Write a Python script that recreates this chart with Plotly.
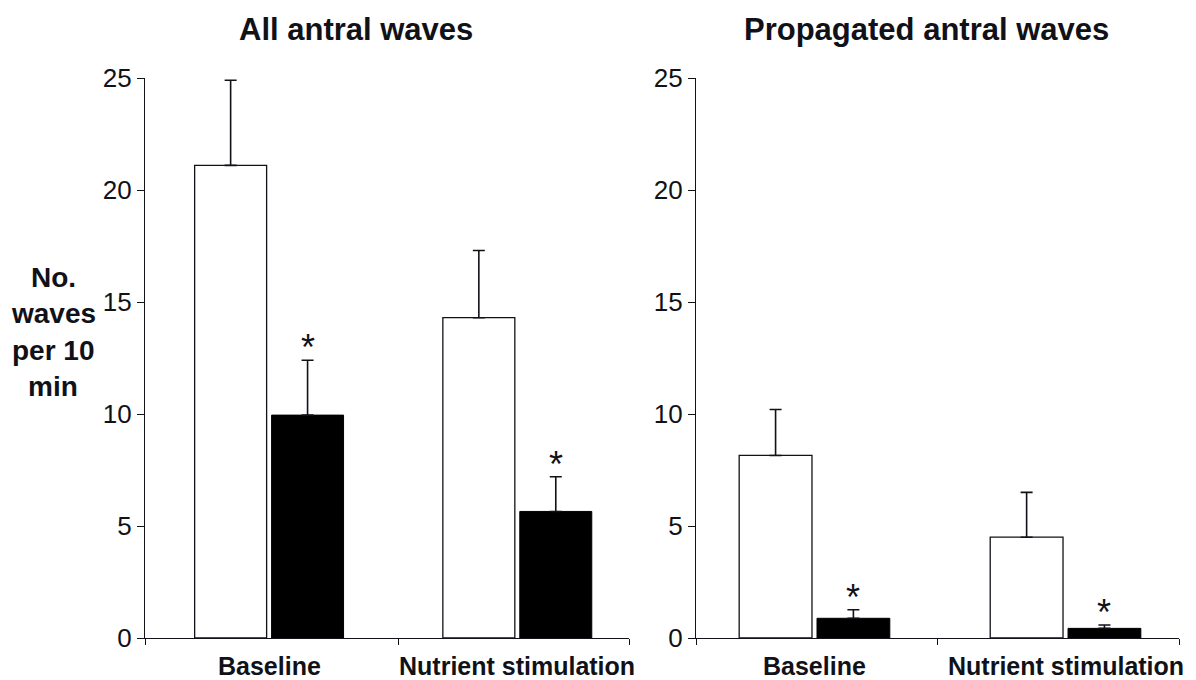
import plotly.graph_objects as go

# ---- data ----
groups = ["Baseline", "Nutrient stimulation"]
panels = ["All antral waves", "Propagated antral waves"]

all_control = [21.1, 14.3]
all_control_err = [3.8, 3.0]
all_treat = [9.95, 5.65]
all_treat_err = [2.45, 1.55]

prop_control = [8.15, 4.5]
prop_control_err = [2.05, 2.0]
prop_treat = [0.88, 0.43]
prop_treat_err = [0.38, 0.15]

y_ticks = [0, 5, 10, 15, 20, 25]
y_label_lines = ["No.", "waves", "per 10", "min"]

# ---- layout helpers ----
OX, OY = 8, 8          # page offset of the figure inside the browser window
W, H = 1196 - OX, 680 - OY
FONT = "Liberation Sans, Arial, sans-serif"
TXT = "#111118"

group_pos = [0.5, 1.5]
off = 0.155
bw = 0.29

def px_x(p):
    return (p - OX) / W

def px_y(p):
    return (H - (p - OY)) / H

fig = go.Figure()

panel_data = [
    (all_control, all_control_err, all_treat, all_treat_err, "x", "y"),
    (prop_control, prop_control_err, prop_treat, prop_treat_err, "x2", "y2"),
]

annotations = []
for ctrl, ctrl_e, trt, trt_e, xa, ya in panel_data:
    xs_c = [g - off for g in group_pos]
    xs_t = [g + off for g in group_pos]
    fig.add_trace(go.Bar(
        x=xs_c, y=ctrl, width=bw, xaxis=xa, yaxis=ya,
        marker=dict(color="white", line=dict(color=TXT, width=1.3)),
        error_y=dict(type="data", symmetric=False, array=ctrl_e,
                     arrayminus=[0] * len(ctrl_e), color=TXT, thickness=1.6, width=6),
        showlegend=False, hoverinfo="skip",
    ))
    fig.add_trace(go.Bar(
        x=xs_t, y=trt, width=bw, xaxis=xa, yaxis=ya,
        marker=dict(color="black", line=dict(color="black", width=1)),
        error_y=dict(type="data", symmetric=False, array=trt_e,
                     arrayminus=[0] * len(trt_e), color=TXT, thickness=1.6, width=6),
        showlegend=False, hoverinfo="skip",
    ))
    for xv, v, e in zip(xs_t, trt, trt_e):
        annotations.append(dict(
            x=xv, y=v + e, xref=xa, yref=ya, text="*", showarrow=False,
            xanchor="center", yanchor="bottom", yshift=-10,
            font=dict(family=FONT, size=36, color=TXT),
        ))
    for g, name in zip(group_pos, groups):
        annotations.append(dict(
            x=g, y=px_y(666), xref=xa, yref="paper", text="<b>%s</b>" % name,
            showarrow=False, xanchor="center", yanchor="middle",
            font=dict(family=FONT, size=25, color=TXT),
        ))

# titles
annotations.append(dict(x=px_x(356), y=px_y(29), xref="paper", yref="paper",
                        text="<b>%s</b>" % panels[0], showarrow=False,
                        xanchor="center", yanchor="middle",
                        font=dict(family=FONT, size=31, color=TXT)))
annotations.append(dict(x=px_x(926), y=px_y(29), xref="paper", yref="paper",
                        text="<b>%s</b>" % panels[1], showarrow=False,
                        xanchor="center", yanchor="middle",
                        font=dict(family=FONT, size=31, color=TXT)))

# y label lines
for i, line in enumerate(y_label_lines):
    annotations.append(dict(x=px_x(53), y=px_y(277 + 36.5 * i), xref="paper", yref="paper",
                            text="<b>%s</b>" % line, showarrow=False,
                            xanchor="center", yanchor="middle",
                            font=dict(family=FONT, size=28, color=TXT)))

ydom = [px_y(638), px_y(78)]
common_y = dict(range=[0, 25], tickvals=y_ticks, ticks="outside", ticklen=7,
                tickcolor=TXT, tickwidth=1.2, showline=True, linecolor=TXT, linewidth=1.2,
                showgrid=False, zeroline=False, domain=ydom, automargin=False,
                tickfont=dict(family=FONT, size=26, color=TXT))
common_x = dict(ticks="outside", ticklen=6, tickcolor=TXT, tickwidth=1.2,
                showline=True, linecolor=TXT, linewidth=1.2, showgrid=False,
                zeroline=False, showticklabels=False, automargin=False)

fig.update_layout(
    width=W, height=H,
    margin=dict(l=0, r=0, t=0, b=0, pad=0),
    paper_bgcolor="white", plot_bgcolor="white",
    xaxis=dict(domain=[px_x(145), px_x(629)], range=[0, 1.95],
               tickvals=[0, 1.02, 1.95], anchor="y", **common_x),
    yaxis=dict(anchor="x", **common_y),
    xaxis2=dict(domain=[px_x(696), px_x(1179)], range=[0.028, 1.952],
                tickvals=[0.028, 0.988, 1.952], anchor="y2", **common_x),
    yaxis2=dict(anchor="x2", **common_y),
    annotations=annotations,
    barmode="overlay",
)

fig.write_html("out.html")
